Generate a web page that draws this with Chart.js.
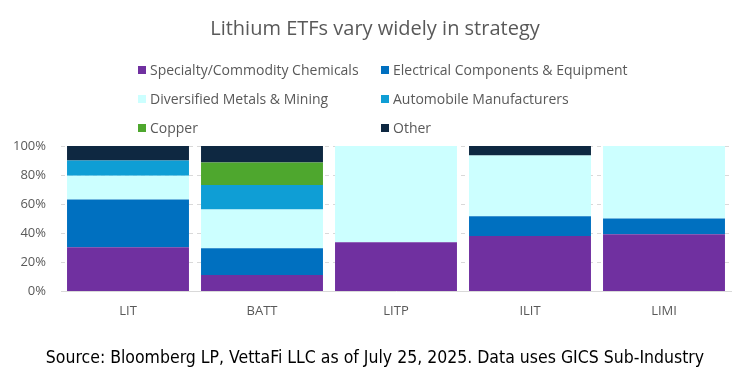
<!DOCTYPE html>
<html>
<head>
<meta charset="utf-8">
<script src="https://cdn.jsdelivr.net/npm/chart.js@4.4.1/dist/chart.umd.min.js"></script>
<style>
  html, body { margin: 0; padding: 0; background: #ffffff; }
</style>
</head>
<body>
<canvas id="canvas" width="750" height="375"></canvas>
<script>
// data (share of each fund, %)
const funds = ['LIT', 'BATT', 'LITP', 'ILIT', 'LIMI'];
const sectors = ['Specialty/Commodity Chemicals', 'Electrical Components & Equipment',
  'Diversified Metals & Mining', 'Automobile Manufacturers', 'Copper', 'Other'];
const specialty   = [30.4, 11.2, 33.8, 38.1, 39.3];
const electrical  = [32.8, 18.5, 0, 13.5, 10.9];
const diversified = [16.4, 26.7, 66.2, 41.8, 49.8];
const automobile  = [10.5, 16.7, 0, 0, 0];
const copper      = [0, 15.5, 0, 0, 0];
const other       = [9.9, 11.4, 0, 6.6, 0];
const yTicks = [0, 20, 40, 60, 80, 100];

const colors = ['#7030A0', '#0070C0', '#CCFFFF', '#0F9ED5', '#4EA72E', '#0E2841'];
const series = [specialty, electrical, diversified, automobile, copper, other];

const grey = '#595959';

// two column legend drawn under the title
const twoColLegend = {
  id: 'twoColLegend',
  afterDraw(chart) {
    const ctx = chart.ctx;
    ctx.save();
    ctx.font = '14px "Open Sans", sans-serif';
    ctx.textBaseline = 'middle';
    const colX = [138, 381];
    const rowY = [70, 99, 128];
    sectors.forEach((name, i) => {
      const x = colX[i % 2];
      const y = rowY[Math.floor(i / 2)];
      ctx.fillStyle = colors[i];
      ctx.fillRect(x, y - 4, 8, 8);
      ctx.fillStyle = grey;
      ctx.fillText(name, x + 12, y + 1);
    });
    ctx.restore();
  }
};

const ctx = document.getElementById('canvas').getContext('2d');

const myChart = new Chart(ctx, {
  type: 'bar',
  data: {
    labels: funds,
    datasets: sectors.map((s, i) => ({
      label: s,
      data: series[i],
      backgroundColor: colors[i],
      borderWidth: 0,
      barPercentage: 0.91,
      categoryPercentage: 1.0
    }))
  },
  options: {
    responsive: false,
    animation: false,
    layout: { padding: { left: 0, right: 0, bottom: 6 } },
    plugins: {
      legend: { display: false },
      tooltip: { enabled: false },
      title: {
        display: true,
        text: 'Lithium ETFs vary widely in strategy',
        color: grey,
        font: { family: '"Open Sans", sans-serif', size: 20, weight: 'normal' },
        padding: { top: 17, bottom: 105 }
      },
      subtitle: {
        display: true,
        position: 'bottom',
        text: 'Source: Bloomberg LP, VettaFi LLC as of July 25, 2025. Data uses GICS Sub-Industry',
        color: '#000000',
        font: { family: '"Liberation Sans Narrow", "DejaVu Sans Condensed", sans-serif', size: 17.5 },
        padding: { top: 25, bottom: 0 }
      }
    },
    scales: {
      x: {
        stacked: true,
        grid: { display: false },
        border: { color: '#D9D9D9' },
        ticks: { color: grey, font: { family: '"Open Sans", sans-serif', size: 13 }, padding: 4 }
      },
      y: {
        stacked: true,
        min: 0,
        max: 100,
        afterBuildTicks(axis) { axis.ticks = yTicks.map(v => ({ value: v })); },
        afterFit(axis) { axis.width = 61; },
        grid: { color: '#D9D9D9', drawTicks: false },
        border: { display: false, dash: [4, 4] },
        ticks: {
          color: grey,
          font: { family: '"Open Sans", sans-serif', size: 13 },
          padding: 15,
          callback: v => v + '%'
        }
      },
      // empty axis that only keeps a margin on the right
      yRight: {
        position: 'right',
        grid: { display: false },
        border: { display: false },
        ticks: { display: false },
        afterFit(axis) { axis.width = 19; }
      }
    }
  },
  plugins: [twoColLegend]
});
</script>
</body>
</html>
